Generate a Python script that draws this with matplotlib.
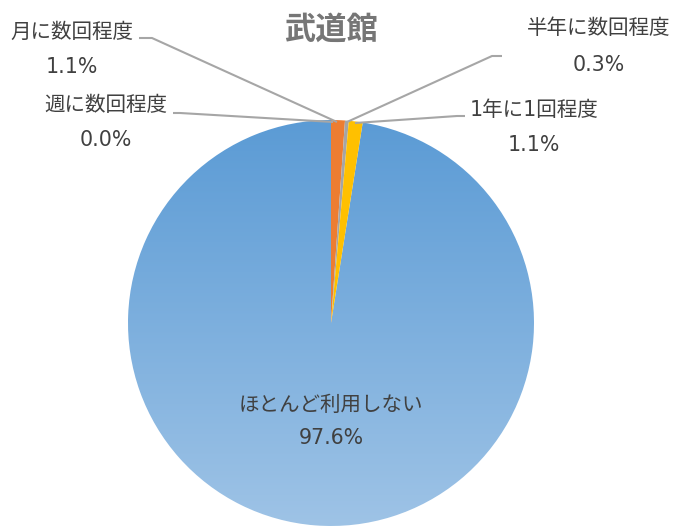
import matplotlib
matplotlib.use("Agg")
import matplotlib.pyplot as plt
import numpy as np
from matplotlib.colors import LinearSegmentedColormap
from matplotlib.patches import Wedge

# Usage frequency of the Budokan
categories = ["週に数回程度", "月に数回程度", "半年に数回程度", "1年に1回程度", "ほとんど利用しない"]
values = [0.0, 1.1, 0.3, 1.1, 97.6]
colors = ["#5B9BD5", "#ED7D31", "#A5A5A5", "#FFC000", "#5B9BD5"]
title = "武道館"

FONT = ["DejaVu Sans", "Noto Sans CJK JP"]
TEXT_COLOR = "#404040"
LINE_COLOR = "#A6A6A6"
FS = 14.8

W, H = 676, 526
fig = plt.figure(figsize=(W / 100, H / 100), dpi=100)
ax = fig.add_axes([0, 0, 1, 1])
ax.set_xlim(0, W)
ax.set_ylim(H, 0)
ax.set_aspect("equal")
ax.axis("off")

cx, cy, r = 331, 323, 203

# slices drawn clockwise from 12 o'clock (y axis points down)
total = sum(values)
start = 90.0
wedges = []
for v, c in zip(values, colors):
    sweep = 360.0 * v / total
    w = Wedge((cx, cy), r, -start, -start + sweep, facecolor=c,
              edgecolor="none", linewidth=0, zorder=1)
    ax.add_patch(w)
    wedges.append(w)
    start -= sweep

# vertical gradient fill for the large slice
big = wedges[-1]
big.set_facecolor("none")
grad_cmap = LinearSegmentedColormap.from_list("g", ["#5B9BD5", "#9EC3E6"])
grad = np.linspace(0, 1, 256).reshape(-1, 1)
im = ax.imshow(grad, cmap=grad_cmap, extent=(cx - r, cx + r, cy + r, cy - r),
               aspect="auto", zorder=0.5)
im.set_clip_path(big)

ax.set_xlim(0, W)
ax.set_ylim(H, 0)

# title
ax.text(331, 30, title, ha="center", va="center", fontsize=22.5, fontweight="bold",
        color="#767676", family=["Noto Sans CJK JP"])

# outside labels: (text x, name y, value y, leader line points)
outside = {
    0: (106, 105, 140, [(173, 113), (180, 113), (333, 122)]),
    1: (72, 32, 67, [(139, 38), (152, 38), (337, 122)]),
    2: (599, 28, 65, [(502, 56), (492, 56), (347, 122)]),
    3: (534, 110, 145, [(465, 116), (457, 116), (355, 123)]),
}
for i, (tx, ny, vy, pts) in outside.items():
    ax.text(tx, ny, categories[i], ha="center", va="center", fontsize=FS,
            color=TEXT_COLOR, family=FONT)
    ax.text(tx, vy, f"{values[i]:.1f}%", ha="center", va="center", fontsize=FS,
            color=TEXT_COLOR, family=FONT)
    xs, ys = zip(*pts)
    ax.plot(xs, ys, color=LINE_COLOR, lw=1.5, zorder=2, solid_capstyle="butt")

# label inside the large slice
ax.text(331, 405, categories[4], ha="center", va="center", fontsize=FS,
        color=TEXT_COLOR, family=FONT, zorder=3)
ax.text(331, 438, f"{values[4]:.1f}%", ha="center", va="center", fontsize=FS,
        color=TEXT_COLOR, family=FONT, zorder=3)

fig.savefig("out.png", dpi=100, facecolor="white")
